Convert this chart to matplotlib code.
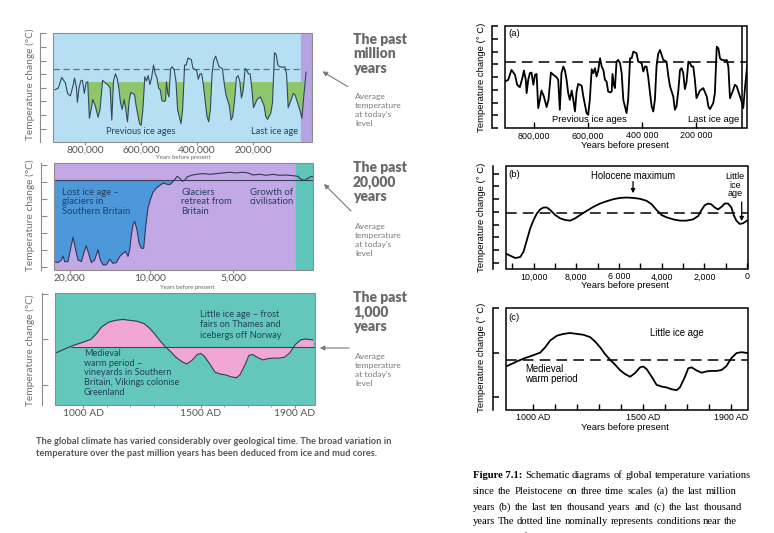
import numpy as np
import matplotlib
matplotlib.use("Agg")
import matplotlib.pyplot as plt
from matplotlib.patches import Rectangle

W, H = 774, 533

# ---------------- data ----------------
# past million years: thousands of years before present / temperature (schematic units)
mil_kyr = [907, 895, 883, 870, 862, 852, 842, 837, 830, 827,
           821, 815, 809, 802, 796, 790, 784, 778, 772, 763,
           753, 746, 737, 728, 716, 710, 704, 698, 691, 685,
           679, 673, 667, 660, 654, 648, 642, 636, 623, 617,
           605, 599, 593, 586, 580, 574, 568, 562, 555, 549,
           543, 537, 531, 525, 518, 512, 509, 504, 500, 494,
           488, 481, 475, 469, 463, 457, 451, 444, 438, 432,
           420, 414, 401, 395, 389, 383, 377, 370, 364, 358,
           352, 346, 340, 333, 327, 321, 309, 302, 296, 290,
           284, 278, 272, 265, 259, 253, 247, 241, 235, 228,
           222, 216, 210, 204, 198, 185, 173, 160, 154, 148,
           136, 130, 123, 117, 111, 105, 99, 93, 86, 80,
           74, 62, 56, 49, 37, 31, 25, 18, 10]
mil_temp = [3.65, 3.78, 4.56, 4.17, 3.39, 3.20, 3.98, 4.51, 3.78, 2.73,
            3.78, 4.30, 4.35, 3.39, 4.17, 4.24, 1.56, 2.21, 2.94, 2.47,
            1.64, 2.21, 4.35, 4.17, 3.98, 3.78, 1.43, 4.30, 4.82, 4.51,
            3.78, 2.73, 2.21, 2.94, 2.21, 1.30, 2.86, 3.46, 3.31, 2.47,
            1.17, 1.04, 2.21, 4.61, 4.30, 4.69, 4.04, 4.51, 5.47, 4.82,
            4.56, 3.78, 3.65, 2.86, 2.79, 2.86, 4.24, 3.39, 3.13, 5.21,
            5.34, 5.08, 4.30, 2.21, 1.69, 1.17, 2.21, 5.47, 5.47, 5.99,
            5.86, 5.21, 5.08, 4.43, 4.82, 4.82, 4.04, 2.73, 1.69, 1.30,
            2.21, 4.82, 5.81, 6.12, 5.73, 5.34, 5.21, 4.04, 3.26, 2.86,
            2.47, 1.43, 1.69, 2.99, 4.56, 4.69, 4.30, 3.05, 3.57, 5.21,
            5.08, 4.82, 4.82, 3.78, 2.34, 2.94, 3.13, 2.47, 1.69, 1.48,
            1.95, 2.73, 6.38, 6.25, 5.47, 5.34, 5.34, 5.29, 5.34, 4.82,
            2.34, 2.99, 3.39, 3.26, 2.47, 2.08, 1.56, 3.26, 4.95]
mil_today = 5.2
mil_glacial = 4.22
mil_recent = 29

# past 20,000 years
k20_years = [21960, 21460, 21040, 20830, 20625, 20210, 19920, 19580, 19250, 18960,
             18540, 18250, 17920, 17580, 17290, 16880, 16460, 16170, 15830, 15420,
             15000, 14580, 14170, 13750, 13330, 13000, 12710, 12500, 12290, 12080,
             11875, 11580, 11330, 11040, 10750, 10500, 10210, 9960, 9800, 9600,
             9400, 9200, 9000, 8800, 8640, 8500, 8360, 8200, 8040, 7900,
             7760, 7500, 7200, 6800, 6400, 6000, 5600, 5200, 4800, 4400,
             4100, 3800, 3400, 3000, 2600, 2200, 1800, 1400, 1100, 900,
             700, 500, 300, 200]
k20_temp = [0.33, 0.27, 0.43, 0.66, 0.33, 0.33, 1.02, 1.76, 1.02, 0.43,
            0.33, 0.82, 1.25, 0.72, 0.27, 0.43, 1.02, 0.43, 0.14, 0.14,
            0.47, 0.23, 0.27, 0.63, 0.82, 0.92, 0.63, 1.02, 1.89, 2.48,
            2.68, 2.19, 1.41, 1.11, 1.11, 2.38, 3.46, 3.95, 4.38, 4.63,
            4.77, 4.92, 4.86, 4.82, 4.96, 5.12, 5.31, 5.21, 5.02, 5.08,
            5.27, 5.37, 5.43, 5.47, 5.43, 5.47, 5.51, 5.55, 5.51, 5.55,
            5.51, 5.39, 5.43, 5.37, 5.43, 5.37, 5.39, 5.35, 5.31, 5.12,
            5.08, 5.20, 5.31, 5.27]
k20_today = 5.08
k20_recent = 1200

# last ten thousand years
b_years = [11293, 11090, 10857, 10623, 10467, 10312, 10156, 10000, 9844, 9688,
           9533, 9377, 9221, 8988, 8754, 8520, 8287, 8053, 7819, 7508,
           7196, 6885, 6573, 6262, 5950, 5639, 5327, 5016, 4704, 4470,
           4237, 4003, 3769, 3458, 3146, 2835, 2523, 2290, 2134, 1978,
           1822, 1667, 1511, 1355, 1199, 1044, 888, 732, 623, 498,
           343, 187, 0]
b_temp = [0.73, 0.57, 0.39, 0.47, 0.91, 1.81, 2.72, 3.37, 3.89, 4.20,
          4.35, 4.35, 4.15, 3.76, 3.50, 3.37, 3.32, 3.50, 3.76, 4.09,
          4.40, 4.66, 4.84, 5.00, 5.10, 5.13, 5.10, 5.03, 4.87, 4.61,
          4.15, 3.76, 3.58, 3.42, 3.32, 3.32, 3.42, 3.68, 4.15, 4.53,
          4.66, 4.59, 4.35, 4.20, 4.40, 4.66, 4.66, 4.35, 3.76, 3.32,
          3.06, 3.11, 3.32]
b_today = 3.94

# last thousand years (AD)
c_year = [877, 904, 934, 964, 994, 1032, 1055, 1077, 1108, 1138,
          1168, 1198, 1228, 1258, 1281, 1304, 1326, 1349, 1372, 1394,
          1417, 1440, 1462, 1485, 1500, 1515, 1538, 1560, 1583, 1606,
          1628, 1651, 1666, 1689, 1704, 1719, 1742, 1764, 1787, 1809,
          1832, 1855, 1877, 1900, 1923, 1945, 1975]
c_temp = [0.69, 0.75, 0.82, 0.88, 0.93, 1.00, 1.12, 1.27, 1.38, 1.42,
          1.44, 1.42, 1.40, 1.35, 1.25, 1.12, 0.97, 0.84, 0.73, 0.61,
          0.52, 0.46, 0.54, 0.67, 0.69, 0.63, 0.46, 0.28, 0.24, 0.22,
          0.18, 0.16, 0.22, 0.46, 0.65, 0.67, 0.60, 0.55, 0.58, 0.59,
          0.59, 0.61, 0.70, 0.88, 0.99, 1.01, 0.99]
c_today = 0.84
c_medieval_start = 950

mil_ticks = [800, 600, 400, 200]
mil_left_labels = ["800,000", "600,000", "400,000", "200,000"]
mil_right_labels = ["800,000", "600,000", "400 000", "200 000"]
k20_ticks = [20000, 10000, 5000]
k20_labels = ["20,000", "10,000", "5,000"]
b_ticks = [10000, 8000, 6000, 4000, 2000, 0]
b_labels = ["10,000", "8,000", "6 000", "4,000", "2,000", "0"]
ad_ticks = [1000, 1500, 1900]
ad_labels = ["1000 AD", "1500 AD", "1900 AD"]

caption_lines = [
    "Schematic diagrams of global temperature variations",
    "since the Pleistocene on three time scales (a) the last million",
    "years (b) the last ten thousand years and (c) the last thousand",
    "years The dotted line nominally represents conditions near the",
    "beginning of the present century",
]

left_font = ["Lato", "DejaVu Sans"]
right_font = ["Liberation Sans", "DejaVu Sans"]
serif_font = ["Liberation Serif", "DejaVu Serif"]
navy = "#23405f"
grey = "#707070"


def box(x0, y0, x1, y1):
    return [x0 / W, 1 - y1 / H, (x1 - x0) / W, (y1 - y0) / H]


def fx(x):
    return x / W


def fy(y):
    return 1 - y / H


def frame(ax, color, lw):
    for s in ["top", "right", "bottom"]:
        ax.spines[s].set_visible(False)
    ax.spines["left"].set_position(("outward", 9.4))
    ax.spines["left"].set_color(color)
    ax.spines["left"].set_linewidth(lw)
    ax.add_patch(Rectangle((0, 0), 1, 1, transform=ax.transAxes, fill=False,
                           ec=color, lw=lw, clip_on=False, zorder=10))
    ax.tick_params(axis="y", direction="in", length=4, color=color, width=lw,
                   labelleft=False)


fig = plt.figure(figsize=(7.74, 5.33), dpi=100)

# ================= left figure =================
# past million years
ax1 = fig.add_axes(box(53, 33, 312, 142))
ax1.set_facecolor("#b6dff4")
ax1.set_xlim(914, -11)
ax1.set_ylim(-0.18, 7.82)
ax1.axvspan(mil_recent, -11, color="#b7a2e3", zorder=1)
k = np.array(mil_kyr)
t = np.array(mil_temp)
ax1.fill_between(k, t, mil_glacial, where=(k <= 800) & (t < mil_glacial),
                 interpolate=True, color="#8fc66b", lw=0, zorder=2)
ax1.hlines(mil_today, 914, mil_recent, colors="#5b728a", linestyles=(0, (5, 3)),
           lw=0.9, zorder=3)
ax1.plot(k, t, color="#34485c", lw=0.8, zorder=4)
frame(ax1, "#8c8c8c", 0.8)
ax1.set_yticks(np.arange(0.8, 7.9, 1.0))
ax1.set_xticks(mil_ticks)
ax1.set_xticklabels(mil_left_labels)


# past 20,000 years (compressed scale before 10,000 years)
def f20(x):
    return np.interp(x, [-1e5, 0, 10000, 1e5], [-1e5, 0, 10000, 10000 + 0.48 * 90000])


def i20(u):
    return np.interp(u, [-1e5, 0, 10000, 10000 + 0.48 * 90000], [-1e5, 0, 10000, 1e5])


ax2 = fig.add_axes(box(54, 163, 313, 270))
ax2.set_facecolor("#c3a8e6")
ax2.set_xscale("function", functions=(f20, i20))
ax2.set_xlim(21960, 200)
ax2.set_ylim(-0.16, 6.09)
ax2.axvspan(k20_recent, 200, color="#5ec6ba", zorder=1)
y2 = np.array(k20_years)
t2 = np.array(k20_temp)
ax2.fill_between(y2, t2, k20_today, where=t2 < k20_today, interpolate=True,
                 color="#4d98da", lw=0, zorder=2)
ax2.axhline(k20_today, color="#3b3f5a", lw=0.8, zorder=3)
ax2.plot(y2, t2, color="#33355a", lw=0.8, zorder=4)
frame(ax2, "#8c8c8c", 0.8)
ax2.set_yticks(range(0, 7))
ax2.set_xticks(k20_ticks)
ax2.set_xticklabels(k20_labels)
ax2.xaxis.set_minor_locator(matplotlib.ticker.NullLocator())

# past 1,000 years
ax3 = fig.add_axes(box(55, 293, 315, 405))
ax3.set_facecolor("#63c7bc")
ax3.set_xlim(880, 1985)
ax3.set_ylim(-0.44, 2.02)
y3 = np.array(c_year)
t3 = np.array(c_temp)
ax3.fill_between(y3, t3, c_today, where=y3 >= c_medieval_start, interpolate=True,
                 color="#f2a6d8", lw=0, zorder=2)
ax3.hlines(c_today, c_medieval_start, 1985, colors="#3d4a55", lw=0.8, zorder=3)
ax3.plot(y3, t3, color="#2f3f4c", lw=0.8, zorder=4)
frame(ax3, "#8c8c8c", 0.8)
ax3.set_yticks([0, 1, 2])
ax3.set_xticks(range(1000, 2000, 100), minor=True)
ax3.set_xticks(ad_ticks)
ax3.set_xticklabels(ad_labels)

for ax in (ax1, ax2, ax3):
    ax.tick_params(axis="x", which="both", direction="out", length=2, color="#8c8c8c",
                   pad=0.8, labelsize=7.4, labelcolor="#555555")
    ax.tick_params(axis="x", which="minor", length=1.5)
    for lab in ax.get_xticklabels():
        lab.set_family(left_font)

for yc in (84, 215, 350):
    fig.text(fx(30), fy(yc), "Temperature change (°C)", rotation=90, ha="center",
             va="center", fontsize=7.3, color=grey, family=left_font)
fig.text(fx(183), fy(157), "Years before present", ha="center", va="center",
         fontsize=4.3, color="#666666", family=left_font)
fig.text(fx(187), fy(287), "Years before present", ha="center", va="center",
         fontsize=4.3, color="#666666", family=left_font)

fig.text(fx(106), fy(132), "Previous ice ages", ha="left", va="center",
         fontsize=6.7, color=navy, family=left_font)
fig.text(fx(251), fy(132), "Last ice age", ha="left", va="center",
         fontsize=6.7, color=navy, family=left_font)
fig.text(fx(62), fy(188), "Lost ice age –\nglaciers in\nSouthern Britain", ha="left",
         va="top", fontsize=6.8, color=navy, family=left_font, linespacing=1.05)
fig.text(fx(181), fy(188), "Glaciers\nretreat from\nBritain", ha="left",
         va="top", fontsize=6.8, color=navy, family=left_font, linespacing=1.05)
fig.text(fx(250), fy(188), "Growth of\ncivilisation", ha="left",
         va="top", fontsize=6.8, color=navy, family=left_font, linespacing=1.05)
fig.text(fx(200), fy(310), "Little ice age – frost\nfairs on Thames and\nicebergs off Norway",
         ha="left", va="top", fontsize=6.6, color=navy, family=left_font, linespacing=1.2)
fig.text(fx(84), fy(349), "Medieval\nwarm period –\nvineyards in Southern\nBritain, Vikings colonise\nGreenland",
         ha="left", va="top", fontsize=6.6, color=navy, family=left_font, linespacing=1.1)

titles = [("The past\nmillion\nyears", 54, 110, (350, 88), (320, 70)),
          ("The past\n20,000\nyears", 182, 240, (353, 213), (322, 182)),
          ("The past\n1,000\nyears", 312, 370, (352, 348), (317, 348))]
for title, ty, ay, a0, a1 in titles:
    fig.text(fx(353), fy(ty), title, ha="left", va="center", fontsize=10,
             fontweight="heavy", color="#6a6a6a", family=left_font, linespacing=1.1)
    fig.text(fx(355), fy(ay), "Average\ntemperature\nat today's\nlevel", ha="left",
             va="center", fontsize=6.1, color="#7a7a7a", family=left_font, linespacing=1.35)
    ax1.annotate("", xy=(fx(a1[0]), fy(a1[1])), xytext=(fx(a0[0]), fy(a0[1])),
                 xycoords="figure fraction", textcoords="figure fraction",
                 arrowprops=dict(arrowstyle="-|>", color="#7a7a7a", lw=0.8,
                                 mutation_scale=7))

fig.text(fx(36), fy(442), "The global climate has varied considerably over geological time. The broad variation in",
         ha="left", va="center", fontsize=6.7, fontweight="bold", color="#555555", family=left_font)
fig.text(fx(36), fy(453), "temperature over the past million years has been deduced from ice and mud cores.",
         ha="left", va="center", fontsize=6.7, fontweight="bold", color="#555555", family=left_font)

# ================= right figure =================
axa = fig.add_axes(box(505, 26, 747, 128))
axa.set_xlim(907, 11)
axa.set_ylim(0, 8)
axa.plot(mil_kyr, mil_temp, color="black", lw=1.3)
axa.axhline(mil_today, color="black", lw=1.1, dashes=(7, 4))
axa.axvline(mil_recent, color="black", lw=1.1)
axa.set_yticks(range(0, 9))
axa.set_xticks(mil_ticks)
axa.set_xticklabels(mil_right_labels)

axb = fig.add_axes(box(506, 166, 748, 269))
axb.set_xlim(11293, -47)
axb.set_ylim(-0.47, 7.6)
axb.plot(b_years, b_temp, color="black", lw=1.3)
axb.axhline(b_today, color="black", lw=1.1, dashes=(7, 4))
axb.set_yticks(range(0, 8))
axb.set_xticks(range(0, 11001, 1000), minor=True)
axb.set_xticks(b_ticks)
axb.set_xticklabels(b_labels)
axb.annotate("", xy=(5340, 5.25), xytext=(5340, 6.6),
             arrowprops=dict(arrowstyle="-|>", color="black", lw=0.9, mutation_scale=6))
axb.annotate("", xy=(249, 3.06), xytext=(249, 5.0),
             arrowprops=dict(arrowstyle="-|>", color="black", lw=0.9, mutation_scale=6))

axc = fig.add_axes(box(506, 308, 748, 410))
axc.set_xlim(877, 1975)
axc.set_ylim(-0.285, 2.0)
axc.plot(c_year, c_temp, color="black", lw=1.3)
axc.axhline(c_today, color="black", lw=1.1, dashes=(7, 4))
axc.set_yticks([0, 1, 2])
axc.set_xticks(range(1000, 2000, 100), minor=True)
axc.set_xticks(ad_ticks)
axc.set_xticklabels(ad_labels)

for ax in (axa, axb, axc):
    frame(ax, "black", 1.1)
    ax.tick_params(axis="x", which="both", direction="in", length=4, width=1.0,
                   pad=2.5, labelsize=6.4)
    for lab in ax.get_xticklabels():
        lab.set_family(right_font)

for yc in (77, 217, 357):
    fig.text(fx(482), fy(yc), "Temperature change (° C)", rotation=90, ha="center",
             va="center", fontsize=6.8, family=right_font)
for yc in (145, 286, 427):
    fig.text(fx(625), fy(yc), "Years before present", ha="center", va="center",
             fontsize=6.8, family=right_font)

fig.text(fx(508), fy(33), "(a)", ha="left", va="center", fontsize=6.8, family=right_font)
fig.text(fx(508), fy(175), "(b)", ha="left", va="center", fontsize=6.8, family=right_font)
fig.text(fx(508), fy(317), "(c)", ha="left", va="center", fontsize=6.8, family=right_font)
fig.text(fx(552), fy(120), "Previous ice ages", ha="left", va="center", fontsize=6.8,
         family=right_font)
fig.text(fx(688), fy(120), "Last ice age", ha="left", va="center", fontsize=6.8,
         family=right_font)
fig.text(fx(633), fy(176), "Holocene maximum", ha="center", va="center", fontsize=6.9,
         family=right_font)
fig.text(fx(735), fy(185), "Little\nice\nage", ha="center", va="center", fontsize=6.5,
         family=right_font, linespacing=0.95)
fig.text(fx(650), fy(333), "Little ice age", ha="left", va="center", fontsize=6.9,
         family=right_font)
fig.text(fx(525), fy(374), "Medieval\nwarm period", ha="left", va="center", fontsize=6.9,
         family=right_font, linespacing=1.05)

# justified caption, word by word
renderer = fig.canvas.get_renderer()
cap_size = 7.65
cap_rows = [475, 491, 507, 522, 537]
cap_right = [742, 737, 742, 735, None]
for i, line in enumerate(caption_lines):
    words = line.split(" ")
    if i == 0:
        words = ["Figure 7.1:"] + words
    texts = []
    for j, w in enumerate(words):
        bold = (i == 0 and j == 0)
        texts.append(fig.text(fx(473), fy(cap_rows[i]), w, ha="left", va="center",
                              fontsize=cap_size, family=serif_font,
                              fontweight="bold" if bold else "normal"))
    widths = [tx.get_window_extent(renderer).width for tx in texts]
    gap = 2.6
    if cap_right[i] is not None:
        gap = max(gap, (cap_right[i] - 473 - sum(widths)) / (len(words) - 1))
    x = 473
    for tx, w in zip(texts, widths):
        tx.set_x(fx(x))
        x += w + gap

fig.savefig("out.png", dpi=100)
